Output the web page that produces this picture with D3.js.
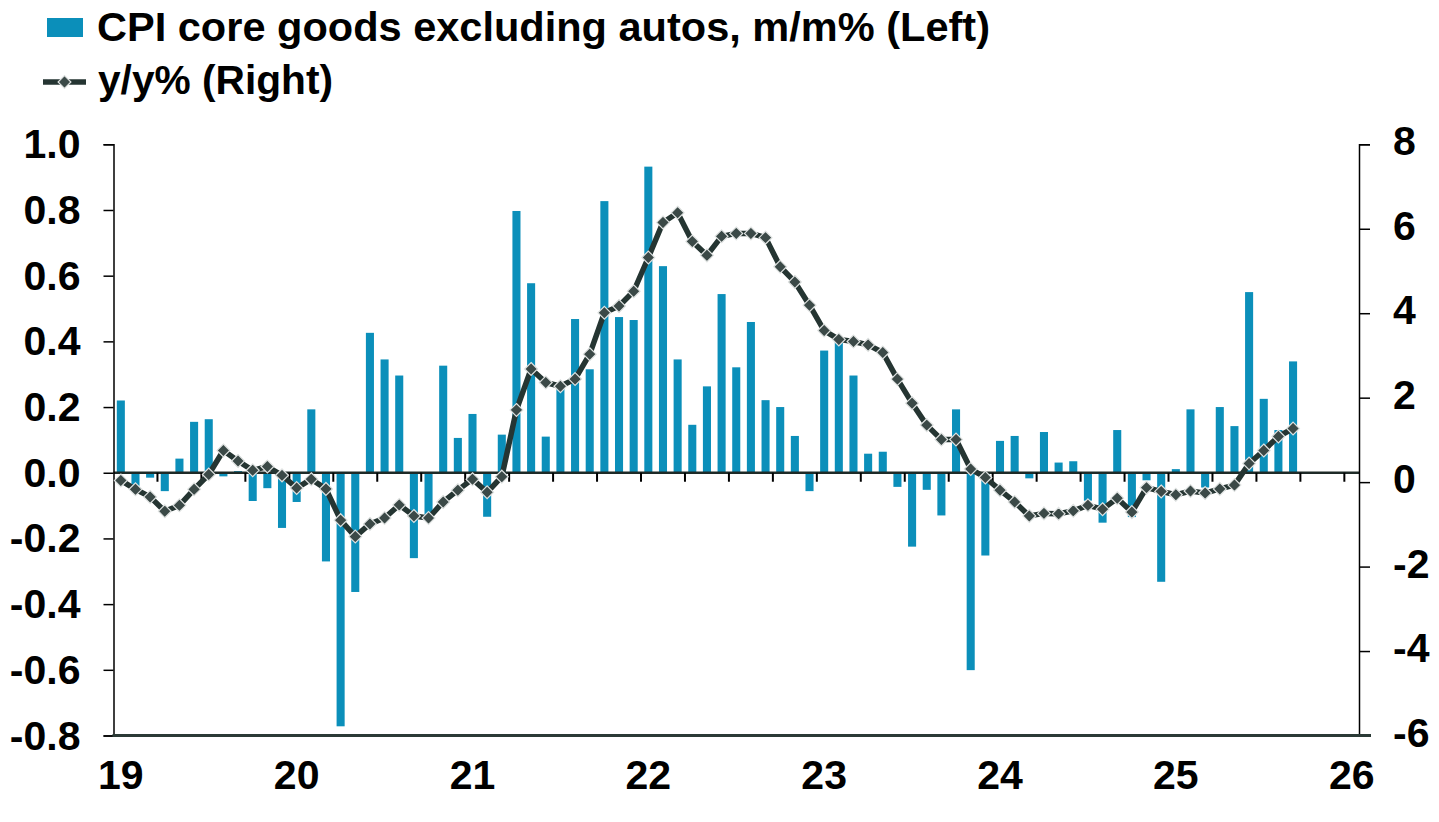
<!DOCTYPE html>
<html>
<head>
<meta charset="utf-8">
<script src="https://cdn.jsdelivr.net/npm/d3@7"></script>
<style>
  html, body { margin: 0; padding: 0; background: #fff; }
  svg { display: block; }
  text { font-family: "Liberation Sans", Arial, sans-serif; font-weight: bold; fill: #000; }
</style>
</head>
<body>
<svg id="chart" width="1439" height="822"></svg>
<script>
// ---- Data ----
const months = [];
for (let y = 2019; y <= 2025; y++) for (let m = 1; m <= 12; m++) months.push(y + "-" + String(m).padStart(2, "0"));
months.push("2026-01");

const mmValues = [
  0.22, -0.04, -0.015, -0.056, 0.043, 0.155, 0.163, -0.011, 0.005, -0.086, -0.047, -0.168,
  -0.089, 0.193, -0.27, -0.772, -0.363, 0.426, 0.345, 0.296, -0.26, -0.13, 0.326, 0.106,
  0.179, -0.134, 0.116, 0.797, 0.577, 0.11, 0.26, 0.468, 0.315, 0.827, 0.474, 0.465,
  0.932, 0.629, 0.345, 0.146, 0.263, 0.544, 0.321, 0.459, 0.221, 0.2, 0.112, -0.056,
  0.372, 0.40, 0.296, 0.058, 0.064, -0.043, -0.225, -0.052, -0.13, 0.193, -0.601, -0.252,
  0.097, 0.112, -0.017, 0.124, 0.031, 0.035, -0.085, -0.152, 0.13, -0.135, -0.023, -0.332,
  0.011, 0.193, -0.045, 0.2, 0.142, 0.55, 0.225, 0.13, 0.339
];

const yyValues = [
  0.04, -0.17, -0.35, -0.69, -0.55, -0.17, 0.18, 0.75, 0.5, 0.28, 0.37, 0.16,
  -0.14, 0.07, -0.16, -0.9, -1.29, -0.99, -0.85, -0.54, -0.8, -0.85, -0.47, -0.19,
  0.07, -0.24, 0.13, 1.71, 2.68, 2.36, 2.27, 2.44, 3.03, 4.01, 4.17, 4.52,
  5.32, 6.15, 6.38, 5.7, 5.37, 5.82, 5.89, 5.89, 5.79, 5.1, 4.74, 4.19,
  3.59, 3.38, 3.33, 3.25, 3.07, 2.44, 1.87, 1.35, 1.01, 1.01, 0.31, 0.11,
  -0.19, -0.47, -0.8, -0.74, -0.75, -0.68, -0.55, -0.64, -0.38, -0.71, -0.13, -0.22,
  -0.3, -0.21, -0.26, -0.16, -0.07, 0.44, 0.75, 1.08, 1.27
];

const leftTicks = [-0.8, -0.6, -0.4, -0.2, 0.0, 0.2, 0.4, 0.6, 0.8, 1.0];
const rightTicks = [-6, -4, -2, 0, 2, 4, 6, 8];
const yearTicks = ["2019-01","2020-01","2021-01","2022-01","2023-01","2024-01","2025-01","2026-01"];
const yearLabels = ["19","20","21","22","23","24","25","26"];

const barLabel = "CPI core goods excluding autos, m/m% (Left)";
const lineLabel = "y/y% (Right)";

// ---- Layout ----
const BAR = "#0b8fba";
const LINE = "#253532";
const AXISDARK = "#2b3a36";
const plotL = 113.5, plotR = 1359, plotT = 144.3, plotB = 735.5;

const svg = d3.select("#chart");

const x = d3.scaleBand().domain(months).range([plotL, plotR]).paddingInner(0.45).paddingOuter(0.225);
const yL = d3.scaleLinear().domain([-0.8, 1.0]).range([plotB, plotT]);
const yR = d3.scaleLinear().domain([-6, 8]).range([plotB, plotT]);
const step = x.step();
const cx = m => x(m) + x.bandwidth() / 2;

// bars
svg.append("g").selectAll("rect").data(mmValues).join("rect")
  .attr("x", (d, i) => x(months[i]))
  .attr("width", x.bandwidth())
  .attr("y", d => Math.min(yL(d), yL(0)))
  .attr("height", d => Math.abs(yL(d) - yL(0)))
  .attr("fill", BAR);

// zero line
svg.append("line")
  .attr("x1", plotL).attr("x2", plotR)
  .attr("y1", yL(0)).attr("y2", yL(0))
  .attr("stroke", "#1e2a27").attr("stroke-width", 2.5);

// quarterly ticks on the zero line
const qTicks = d3.range(3, months.length, 3);
svg.append("g").selectAll("line").data(qTicks).join("line")
  .attr("x1", k => plotL + k * step).attr("x2", k => plotL + k * step)
  .attr("y1", yL(0)).attr("y2", yL(0) + 9)
  .attr("stroke", "#000").attr("stroke-width", 2);

// left axis
const gL = svg.append("g").attr("transform", `translate(${plotL},0)`)
  .call(d3.axisLeft(yL).tickValues(leftTicks).tickSize(10).tickPadding(23)
    .tickFormat(d => d.toFixed(1)));
gL.select(".domain").attr("stroke", "#000").attr("stroke-width", 1.5);
gL.selectAll(".tick line").attr("stroke", "#000").attr("stroke-width", 1.5);
gL.selectAll(".tick text").style("font-size", "41px").attr("dy", "0.33em");

// right axis
const gR = svg.append("g").attr("transform", `translate(${plotR},0)`)
  .call(d3.axisRight(yR).tickValues(rightTicks).tickSize(11).tickPadding(23)
    .tickFormat(d => String(d)));
gR.select(".domain").attr("stroke", "#000").attr("stroke-width", 1.5);
gR.selectAll(".tick line").attr("stroke", "#000").attr("stroke-width", 1.5);
gR.selectAll(".tick text").style("font-size", "41px").attr("dy", "0.26em");

// bottom axis line + year labels
svg.append("line")
  .attr("x1", plotL - 1).attr("x2", plotR + 12)
  .attr("y1", plotB).attr("y2", plotB)
  .attr("stroke", AXISDARK).attr("stroke-width", 3);

const gX = svg.append("g").attr("transform", `translate(0,${plotB})`)
  .call(d3.axisBottom(x).tickValues(yearTicks).tickSize(0).tickPadding(24)
    .tickFormat(d => yearLabels[yearTicks.indexOf(d)]));
gX.select(".domain").remove();
gX.selectAll(".tick text").style("font-size", "41px");

// y/y line
const lineGen = d3.line().x((d, i) => cx(months[i])).y(d => yR(d));
svg.append("path").datum(yyValues)
  .attr("d", lineGen)
  .attr("fill", "none").attr("stroke", LINE).attr("stroke-width", 5.5)
  .attr("stroke-linejoin", "round");

const diamond = d3.symbol().type(d3.symbolDiamond2).size(105);
svg.append("g").selectAll("path").data(yyValues).join("path")
  .attr("transform", (d, i) => `translate(${cx(months[i])},${yR(d)})`)
  .attr("d", diamond)
  .attr("fill", "#3b4947").attr("stroke", "#dfe2e1").attr("stroke-width", 1.2);

// legend
const lg = svg.append("g");
lg.append("rect").attr("x", 47).attr("y", 18).attr("width", 36).attr("height", 19).attr("fill", BAR);
lg.append("text").attr("x", 97).attr("y", 41).style("font-size", "41px")
  .attr("textLength", 893).attr("lengthAdjust", "spacingAndGlyphs").text(barLabel);
lg.append("line").attr("x1", 43).attr("x2", 86).attr("y1", 82).attr("y2", 82)
  .attr("stroke", LINE).attr("stroke-width", 5.5);
lg.append("path").attr("transform", "translate(64.5,82)").attr("d", diamond)
  .attr("fill", "#3b4947").attr("stroke", "#dfe2e1").attr("stroke-width", 1.2);
lg.append("text").attr("x", 98).attr("y", 94).style("font-size", "41px")
  .attr("textLength", 235).attr("lengthAdjust", "spacingAndGlyphs").text(lineLabel);
</script>
</body>
</html>
